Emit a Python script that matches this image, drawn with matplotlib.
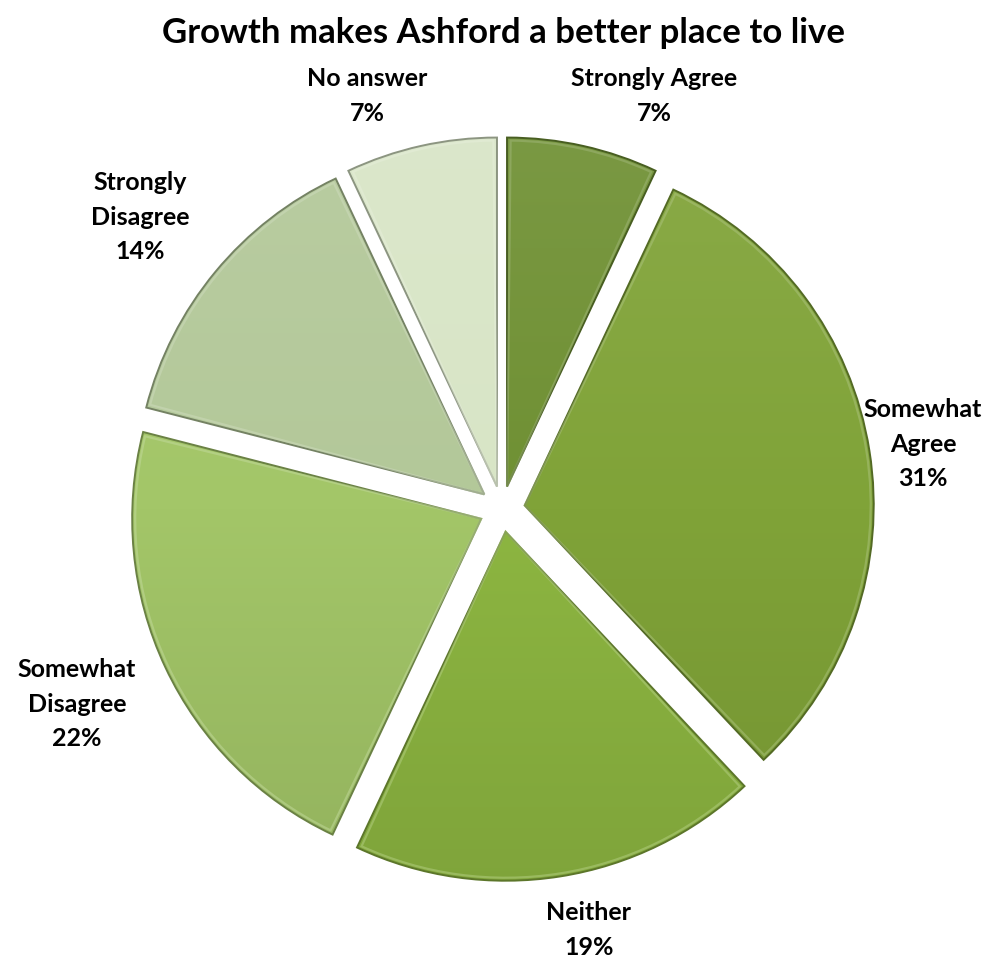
import numpy as np
import matplotlib.pyplot as plt
from matplotlib.patches import Wedge
from matplotlib.colors import to_rgb, LinearSegmentedColormap

# survey answers, clockwise from 12 o'clock
categories = ['Strongly Agree', 'Somewhat Agree', 'Neither',
              'Somewhat Disagree', 'Strongly Disagree', 'No answer']
label_lines = ['Strongly Agree', 'Somewhat\nAgree', 'Neither',
               'Somewhat\nDisagree', 'Strongly\nDisagree', 'No answer']
shares = [7, 31, 19, 22, 14, 7]
colors = ['#6f9033', '#80a338', '#8db641', '#a3c668', '#b3c899', '#d8e5c6']

# label centres in pixels (x from left, y from top)
label_pos = [(654, 96), (923, 444), (589, 930), (77, 704), (140, 217), (367, 96)]

plt.rcParams['font.family'] = ['Lato', 'DejaVu Sans']

W, H = 991, 963
fig = plt.figure(figsize=(W / 100, H / 100), dpi=100)
ax = fig.add_axes([0, 0, 1, 1])

cx, cy, R = 502, H - 509, 349
gap = 23

wedges, _ = ax.pie(shares, colors=colors, startangle=90, counterclock=False,
                   explode=[gap] * len(shares), center=(cx, cy), radius=R,
                   wedgeprops=dict(linewidth=0))


def shade(c, f):
    c = np.array(to_rgb(c))
    if f > 0:
        return tuple(c + (1 - c) * f)
    return tuple(c * (1 + f))


# vertical light-to-dark fill clipped to each slice, plus a bevelled rim
grad = np.linspace(0, 1, 256).reshape(-1, 1)
for w, c in zip(wedges, colors):
    cmap = LinearSegmentedColormap.from_list('s', [shade(c, -0.10), c, shade(c, 0.08)])
    im = ax.imshow(grad, cmap=cmap, origin='lower', aspect='auto',
                   extent=(cx - R - 40, cx + R + 40, cy - R - 40, cy + R + 40),
                   zorder=2)
    im.set_clip_path(w)
    ax.add_patch(Wedge(w.center, w.r, w.theta1, w.theta2, facecolor='none',
                       edgecolor=shade(c, -0.35), linewidth=1.4, zorder=3))
    ax.add_patch(Wedge(w.center, w.r - 3, w.theta1 + 0.6, w.theta2 - 0.6,
                       facecolor='none', edgecolor=shade(c, 0.35),
                       linewidth=1.6, alpha=0.5, zorder=3))

# slice labels with percentages
for txt, s, (lx, ly) in zip(label_lines, shares, label_pos):
    ax.text(lx, H - ly, f'{txt}\n{s}%', ha='center', va='center',
            fontsize=18, fontweight='bold', linespacing=1.6,
            color='black', zorder=4)

ax.set_xlim(0, W)
ax.set_ylim(0, H)
ax.set_aspect('equal')
ax.axis('off')

fig.text(503 / W, 1 - 33 / H, 'Growth makes Ashford a better place to live',
         ha='center', va='center', fontsize=25, fontweight='bold')

fig.savefig('out.png', dpi=100, facecolor='white')
